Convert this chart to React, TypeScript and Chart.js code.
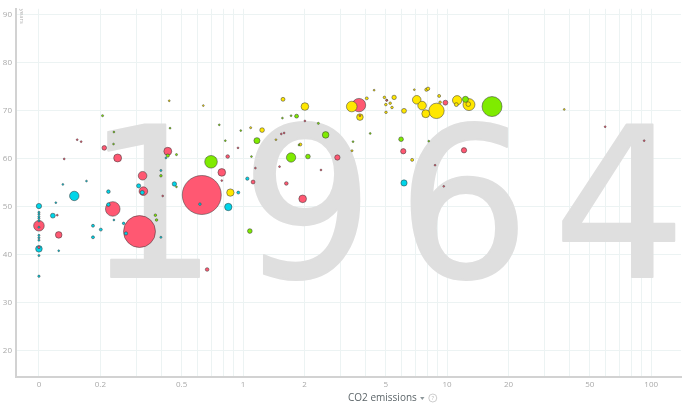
import React, { useEffect, useRef } from "react";
import { Chart, registerables } from "chart.js";

Chart.register(...registerables);

// ---- Texts ----
const YEAR_LABEL = "1964";
const X_TITLE = "CO2 emissions";
const Y_TITLE = "years";

// ---- Axes ----
// Zero emissions are placed at the position of 0.1 on the log axis (labelled "0").
const ZERO_POS = 0.1;
const X_MIN = 0.0772;
const X_MAX = 140;
const X_GRID_VALUES = [0.1, 0.2, 0.3, 0.4, 0.5, 0.6, 0.7, 0.8, 0.9, 1, 2, 3, 4, 5, 6, 7, 8, 9, 10, 20, 30, 40, 50, 60, 70, 80, 90, 100];
const X_LABELED = [0.2, 0.5, 1, 2, 5, 10, 20, 50, 100];
const Y_MIN = 14.54;
const Y_MAX = 91.13;
const Y_TICKS = [20, 30, 40, 50, 60, 70, 80, 90];

// ---- Data: [CO2 t/person, life expectancy years, population millions] ----
const asia: [number, number, number][] = [
  [0.628, 52.4, 700], [0.311, 44.8, 470], [0.23, 49.5, 98], [0.322, 56.4, 34], [0.325, 53.2, 34],
  [0.243, 60.1, 29], [0.209, 62.2, 10], [0.428, 61.5, 29], [0.787, 57.1, 27], [1.96, 51.6, 27],
  [0.125, 44.1, 20], [0, 46.0, 52], [0, 41.5, 3], [0.123, 48.2, 1], [0.841, 60.4, 6],
  [1.12, 55.1, 7], [1.63, 54.8, 6], [1.51, 58.3, 1.5], [2.41, 57.6, 1.5], [1.59, 65.3, 1.2],
  [1.54, 65.1, 1], [2.01, 67.8, 1.2], [2.9, 60.2, 13], [3.7, 71.1, 83], [6.1, 61.5, 13],
  [9.81, 71.6, 11], [12.1, 61.7, 13], [8.73, 58.6, 1.2], [9.63, 54.2, 1.2], [59.5, 66.6, 1],
  [92.4, 63.7, 1], [0.667, 36.9, 6], [3.74, 68.9, 1.2], [5.06, 72.1, 1], [0.154, 63.9, 1],
  [0.161, 63.5, 1], [0.133, 59.9, 1], [1.15, 58.0, 1], [0.945, 62.2, 1], [0.404, 52.2, 1],
  [0.787, 55.4, 1],
];

const africa: [number, number, number][] = [
  [0, 50.1, 13], [0, 48.8, 2], [0, 48.4, 2], [0, 47.9, 2], [0, 47.5, 2], [0, 47.0, 2],
  [0, 45.7, 2], [0, 44.0, 2], [0, 43.5, 2], [0, 43.0, 2], [0, 41.2, 20], [0, 39.8, 2],
  [0, 35.5, 2.5], [0.117, 48.1, 11], [0.149, 52.2, 41], [0.121, 50.8, 1.5], [0.131, 54.6, 1],
  [0.171, 55.3, 1], [0.184, 46.0, 4], [0.184, 43.6, 4], [0.201, 45.2, 4], [0.219, 53.1, 6],
  [0.219, 50.4, 6], [0.233, 47.2, 1], [0.267, 44.4, 5], [0.26, 46.5, 3], [0.308, 54.3, 8],
  [0.321, 52.9, 8], [0.125, 40.8, 1.5], [0.396, 57.5, 2], [0.396, 43.6, 2], [0.461, 54.7, 9],
  [0.615, 50.5, 3], [0.847, 49.9, 25], [0.948, 52.9, 4], [1.05, 55.8, 5], [6.15, 54.9, 18],
  [0.419, 60.1, 1],
];

const europe: [number, number, number][] = [
  [3.41, 70.8, 52], [3.74, 68.6, 20], [4.39, 74.2, 1], [4.04, 72.5, 4], [4.93, 72.7, 3],
  [5.06, 72.1, 2], [5.26, 71.5, 3], [5.01, 71.2, 3], [5.37, 70.6, 3], [5.5, 72.7, 9],
  [5.02, 69.6, 3], [6.15, 69.9, 11], [7.1, 72.2, 34], [7.54, 71.0, 34], [7.86, 69.3, 29],
  [8.87, 69.9, 109], [7.92, 74.3, 5], [8.07, 74.5, 5], [9.14, 73.0, 4], [9.24, 71.7, 3],
  [11.2, 72.1, 40], [11.1, 71.2, 7], [12.8, 71.2, 66], [12.7, 71.3, 10], [0.435, 72.0, 1.5],
  [0.639, 71.0, 1.5], [1.09, 66.4, 2], [1.24, 65.9, 10], [1.45, 63.9, 1.5], [1.57, 72.3, 7],
  [2.01, 70.8, 27], [1.91, 62.9, 4], [0.867, 52.9, 25], [3.42, 61.6, 2], [6.74, 59.7, 4],
  [37.5, 70.2, 1], [6.91, 74.3, 1],
];

const americas: [number, number, number][] = [
  [16.6, 70.8, 184], [12.3, 72.3, 17], [0.697, 59.3, 73], [1.72, 60.2, 40], [2.08, 60.4, 10],
  [1.17, 63.7, 17], [2.54, 64.9, 20], [1.83, 68.8, 7], [1.72, 68.9, 1.5], [2.34, 67.3, 2],
  [0.205, 68.9, 2], [0.439, 66.3, 1.5], [0.975, 65.8, 1.5], [1.1, 60.4, 1.5], [0.428, 60.6, 5],
  [0.472, 60.8, 2], [0.396, 56.4, 3], [0.372, 48.2, 3], [0.377, 47.2, 3], [0.472, 54.1, 1.5],
  [1.08, 44.9, 10], [5.95, 64.0, 10], [4.2, 65.2, 1.5], [1.88, 62.8, 1], [3.46, 63.5, 1],
  [8.13, 63.6, 1], [0.233, 65.5, 1], [0.232, 63.0, 1], [0.765, 67.0, 1], [0.819, 63.7, 1],
  [1.56, 68.4, 1],
];

// ---- Styles ----
const COLORS = { asia: "#ff5872", africa: "#00d5e9", europe: "#ffe700", americas: "#7feb00" };
const GRID_COLOR = "#ecf3f3";
const AXIS_COLOR = "#d2d2d2";
const TICK_COLOR = "#a9a9a9";
const FONT = '"Open Sans", sans-serif';

const radiusFor = (pop: number) => Math.max(0.9, 0.737 * Math.sqrt(pop));

const watermarkPlugin = {
  id: "watermark",
  beforeDatasetsDraw(chart: any) {
    const { ctx, chartArea: a } = chart;
    ctx.save();
    ctx.fillStyle = "#dfdfdf";
    ctx.strokeStyle = "#dfdfdf";
    ctx.lineWidth = 2;
    ctx.lineJoin = "round";
    ctx.font = `${Math.round(a.height * 0.567)}px "DejaVu Sans"`;
    ctx.textAlign = "center";
    ctx.textBaseline = "alphabetic";
    const chars = YEAR_LABEL.split("");
    chars.forEach((ch, i) => {
      const x = a.left + a.width * (0.204 + i * 0.2345);
      const y = a.top + a.height * 0.7285;
      ctx.fillText(ch, x, y);
      ctx.strokeText(ch, x, y);
    });
    ctx.restore();
  },
};

const titlesPlugin = {
  id: "titles",
  afterDraw(chart: any) {
    const { ctx, chartArea: a } = chart;
    ctx.save();
    // x axis title
    ctx.font = `10px ${FONT}`;
    ctx.fillStyle = "#5c6569";
    ctx.textAlign = "left";
    ctx.textBaseline = "middle";
    const tx = a.left + a.width * 0.4993;
    const ty = a.bottom + 21;
    ctx.fillText(X_TITLE, tx, ty);
    const w = ctx.measureText(X_TITLE).width;
    // dropdown triangle
    const cx = tx + w + 5.5;
    ctx.fillStyle = "#8d979a";
    ctx.beginPath();
    ctx.moveTo(cx - 2.2, ty - 1);
    ctx.lineTo(cx + 2.2, ty - 1);
    ctx.lineTo(cx, ty + 2);
    ctx.closePath();
    ctx.fill();
    // help circle
    const hx = tx + w + 16;
    ctx.strokeStyle = "#c6c6c6";
    ctx.lineWidth = 0.9;
    ctx.beginPath();
    ctx.arc(hx, ty, 4, 0, Math.PI * 2);
    ctx.stroke();
    ctx.fillStyle = "#b8b8b8";
    ctx.font = `6px ${FONT}`;
    ctx.textAlign = "center";
    ctx.fillText("?", hx, ty + 0.3);
    // y axis title (rotated)
    ctx.font = `6px ${FONT}`;
    ctx.fillStyle = "#b0b0b0";
    ctx.translate(a.left + 5.5, a.top);
    ctx.rotate(Math.PI / 2);
    ctx.textAlign = "left";
    ctx.textBaseline = "middle";
    ctx.fillText(Y_TITLE, 0, 0);
    ctx.restore();
  },
};

export default function App() {
  const canvasRef = useRef<HTMLCanvasElement | null>(null);

  useEffect(() => {
    document.body.style.margin = "0";
    const canvas = canvasRef.current;
    if (!canvas) return;

    const all = [
      ...asia.map((p) => ({ p, c: COLORS.asia })),
      ...africa.map((p) => ({ p, c: COLORS.africa })),
      ...europe.map((p) => ({ p, c: COLORS.europe })),
      ...americas.map((p) => ({ p, c: COLORS.americas })),
    ].sort((a, b) => b.p[2] - a.p[2]);

    const data = all.map(({ p }) => ({ x: p[0] === 0 ? ZERO_POS : p[0], y: p[1], r: radiusFor(p[2]) }));
    const colors = all.map(({ c }) => c);

    const xLabel = (value: any) => {
      const v = Number(value);
      if (Math.abs(v - ZERO_POS) < 1e-9) return "0";
      const hit = X_LABELED.find((t) => Math.abs(t - v) < 1e-9);
      return hit !== undefined ? String(hit) : "";
    };

    const chart = new Chart(canvas, {
      type: "bubble",
      data: {
        datasets: [
          {
            data,
            backgroundColor: colors,
            borderColor: "rgba(55,55,55,0.75)",
            borderWidth: 0.7,
            clip: false,
          },
        ],
      },
      options: {
        responsive: false,
        animation: false,
        devicePixelRatio: 1,
        layout: { autoPadding: false, padding: { top: 5, right: 1, left: 0, bottom: 0 } },
        plugins: { legend: { display: false }, tooltip: { enabled: false } },
        scales: {
          x: {
            type: "logarithmic",
            position: "bottom",
            min: X_MIN,
            max: X_MAX,
            afterBuildTicks: (s: any) => {
              s.ticks = X_GRID_VALUES.map((v) => ({ value: v }));
            },
            afterFit: (s: any) => {
              s.height = 27;
            },
            grid: { color: GRID_COLOR, lineWidth: 1, drawTicks: false },
            border: { color: AXIS_COLOR, width: 2 },
            ticks: {
              autoSkip: false,
              maxRotation: 0,
              padding: 3,
              color: TICK_COLOR,
              font: { family: FONT, size: 8 },
              callback: xLabel,
            },
          },
          y: {
            type: "linear",
            min: Y_MIN,
            max: Y_MAX,
            afterBuildTicks: (s: any) => {
              s.ticks = Y_TICKS.map((v) => ({ value: v }));
            },
            afterFit: (s: any) => {
              s.width = 16;
            },
            grid: { color: GRID_COLOR, lineWidth: 1, drawTicks: false },
            border: { color: AXIS_COLOR, width: 2 },
            ticks: {
              padding: 4,
              color: TICK_COLOR,
              font: { family: FONT, size: 8 },
              callback: (v: any) => String(v),
            },
          },
        },
      } as any,
      plugins: [watermarkPlugin, titlesPlugin],
    });

    return () => chart.destroy();
  }, []);

  return (
    <div style={{ width: 682, height: 404, position: "relative", background: "#fff" }}>
      <canvas ref={canvasRef} width={682} height={404} />
    </div>
  );
}
